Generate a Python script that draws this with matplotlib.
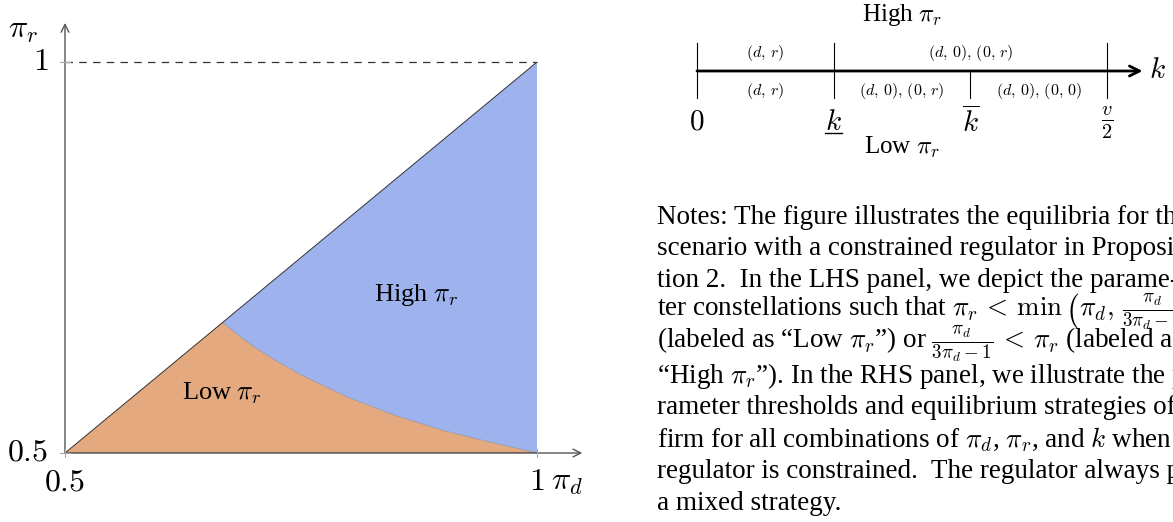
import matplotlib
matplotlib.use("Agg")
import matplotlib.pyplot as plt  # noqa: E402
from matplotlib.patches import Polygon  # noqa: E402

plt.rcParams["mathtext.fontset"] = "cm"
plt.rcParams["font.family"] = ["Liberation Serif", "DejaVu Serif"]

# --- left panel: region boundary ---
kink = (0.667, 0.667)                     # where pi_r = pi_d meets the curve
curve_pd = [0.667, 0.68, 0.70, 0.725, 0.75, 0.80, 0.85, 0.90, 0.95, 1.00]
curve_pr = [0.667, 0.654, 0.636, 0.617, 0.600, 0.571, 0.548, 0.529, 0.514, 0.500]
pd_range = (0.5, 1.0)
pr_range = (0.5, 1.0)
region_labels = [r"Low $\pi_r$", r"High $\pi_r$"]

# --- right panel: thresholds on k and equilibrium strategies ---
k_ticks = [0, 1, 2, 3]
k_labels = [r"$0$", r"$k$", r"$\overline{k}$", r"$\frac{v}{2}$"]
high_segments = [(0, 1, r"$(d,\,r)$"), (1, 3, r"$(d,\,0),\,(0,\,r)$")]
low_segments = [(0, 1, r"$(d,\,r)$"), (1, 2, r"$(d,\,0),\,(0,\,r)$"),
                (2, 3, r"$(d,\,0),\,(0,\,0)$")]
high_ticks = [0, 1, 3]

notes = [
    "Notes: The figure illustrates the equilibria for the",
    "scenario with a constrained regulator in Proposi-",
    "tion 2.  In the LHS panel, we depict the parame-",
    r"ter constellations such that $\pi_r\,<\,\min\,\left(\pi_d,\,\frac{\pi_d}{3\pi_d-1}\right)$",
    r"(labeled as “Low $\pi_r$”) or $\frac{\pi_d}{3\pi_d-1}\,<\,\pi_r$ (labeled as",
    r"“High $\pi_r$”). In the RHS panel, we illustrate the pa-",
    "rameter thresholds and equilibrium strategies of the",
    r"firm for all combinations of $\pi_d$, $\pi_r$, and $k$ when the",
    "regulator is constrained.  The regulator always plays",
    "a mixed strategy.",
]

W, H = 1173, 522
fig = plt.figure(figsize=(W / 100, H / 100), dpi=100)

# left panel axes: pi_d 0.5..1 -> x 65..537 px, pi_r 0.5..1 -> y 453..62 px
ax = fig.add_axes([65 / W, (H - 453) / H, 472 / W, 391 / H])
ax.set_xlim(*pd_range)
ax.set_ylim(*pr_range)
ax.axis("off")

low_orange = "#E4A97F"
high_blue = "#9EB3EE"
low_poly = [(pd_range[0], pr_range[0])] + list(zip(curve_pd, curve_pr))
high_poly = [kink, (pd_range[1], pr_range[1])] + list(zip(curve_pd, curve_pr))[::-1]
ax.add_patch(Polygon(low_poly, closed=True, fc=low_orange, ec="none", zorder=1))
ax.add_patch(Polygon(high_poly, closed=True, fc=high_blue, ec="none", zorder=1))
ax.plot(curve_pd, curve_pr, color="#8a8a8a", lw=0.4, zorder=2)
ax.plot([pd_range[0], pd_range[1]], [pr_range[0], pr_range[1]], color="#333333", lw=0.7, zorder=2)
ax.plot([pd_range[1], pd_range[1]], [pr_range[0], pr_range[1]], color="#333333", lw=0.7, zorder=2)
ax.plot([pd_range[0], pd_range[1]], [pr_range[1], pr_range[1]], color="#333333", lw=0.9,
        ls=(0, (6, 5)), zorder=2, clip_on=False)

# axes with arrows
arrow_kw = dict(arrowstyle="->", color="#555555", lw=1.0, shrinkA=0, shrinkB=0,
                mutation_scale=14)
ax.annotate("", xy=(1.048, pr_range[0]), xytext=(pd_range[0], pr_range[0]),
            arrowprops=arrow_kw, annotation_clip=False, zorder=3)
ax.annotate("", xy=(pd_range[0], 1.05), xytext=(pd_range[0], pr_range[0]),
            arrowprops=arrow_kw, annotation_clip=False, zorder=3)
ax.plot([pd_range[0], pd_range[1]], [pr_range[0], pr_range[0]],
        color="#222222", lw=1.0, zorder=3)

# tick marks
for v in pd_range:
    ax.plot([v, v], [pr_range[0] - 0.005, pr_range[0] + 0.005], color="#aaaaaa", lw=0.8,
            clip_on=False, zorder=4)
for v in pr_range:
    ax.plot([pd_range[0] - 0.005, pd_range[0] + 0.005], [v, v], color="#aaaaaa", lw=0.8,
            clip_on=False, zorder=4)

fs = 19
tfs = 23
ax.text(pd_range[0], pr_range[0] - 0.038, r"$0.5$", ha="center", va="center", fontsize=tfs)
ax.text(pd_range[1], pr_range[0] - 0.038, r"$1$", ha="center", va="center", fontsize=tfs)
ax.text(1.032, pr_range[0] - 0.038, r"$\pi_d$", ha="center", va="center", fontsize=tfs)
ax.text(pd_range[0] - 0.018, pr_range[0], r"$0.5$", ha="right", va="center", fontsize=tfs)
ax.text(pd_range[0] - 0.018, pr_range[1], r"$1$", ha="right", va="center", fontsize=tfs)
ax.text(0.455, 1.04, r"$\pi_r$", ha="center", va="center", fontsize=tfs)

ax.text(0.666, 0.577, region_labels[0], ha="center", va="center", fontsize=fs, zorder=5)
ax.text(0.872, 0.702, region_labels[1], ha="center", va="center", fontsize=fs, zorder=5)

# right panel: number line, k 0..3 -> x 697..1107 px, line at y=71 px
nl = fig.add_axes([697 / W, (H - 142) / H, 410 / W, 142 / H])
nl.set_xlim(k_ticks[0], k_ticks[-1])
nl.set_ylim(-1, 1)
nl.axis("off")

nl.annotate("", xy=(3.26, 0), xytext=(k_ticks[0], 0),
            arrowprops=dict(arrowstyle="->", color="black", lw=2.0, shrinkA=0, shrinkB=0,
                            mutation_scale=18),
            annotation_clip=False)
nl.text(3.37, 0, r"$k$", ha="center", va="center", fontsize=21)

for k in k_ticks:
    top = 0.39 if k in high_ticks else 0
    nl.plot([k, k], [-0.38, top], color="black", lw=0.8, clip_on=False)
for k, lab in zip(k_ticks, k_labels):
    nl.text(k, -0.73, lab, ha="center", va="center", fontsize=21)
# underline for the lower threshold
nl.plot([k_ticks[1] - 0.06, k_ticks[1] + 0.06], [-0.87, -0.87], color="black", lw=1.0,
        clip_on=False)

for a, b, lab in high_segments:
    nl.text((a + b) / 2, 0.25, lab, ha="center", va="center", fontsize=11.5)
for a, b, lab in low_segments:
    nl.text((a + b) / 2, -0.28, lab, ha="center", va="center", fontsize=11.5)

nl.text(1.5, 0.79, r"High $\pi_r$", ha="center", va="center", fontsize=fs - 1)
nl.text(1.5, -1.07, r"Low $\pi_r$", ha="center", va="center", fontsize=fs - 1)

# notes text block
y0, dy = 217, 31.8
for i, line in enumerate(notes):
    fig.text(657 / W, 1 - (y0 + i * dy) / H, line, ha="left", va="center", fontsize=19.5)

fig.savefig("out.png", dpi=100)
